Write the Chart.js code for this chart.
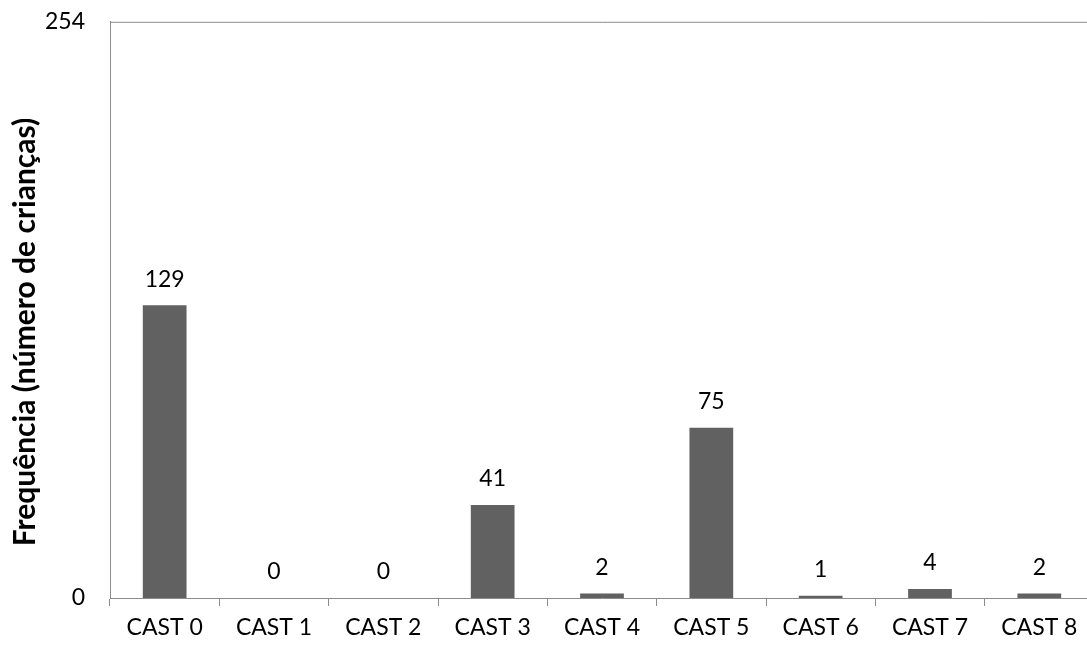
<!DOCTYPE html>
<html>
<head>
<meta charset="utf-8">
<script src="https://cdn.jsdelivr.net/npm/chart.js@4"></script>
<style>
  html, body { margin: 0; padding: 0; background: #fff; overflow: hidden; }
  #wrap { width: 1100px; height: 666px; position: relative; margin-top: -17px; }
</style>
</head>
<body>
<div id="wrap"><canvas id="chart"></canvas></div>
<script>
const categories = ["CAST 0", "CAST 1", "CAST 2", "CAST 3", "CAST 4", "CAST 5", "CAST 6", "CAST 7", "CAST 8"];
const frequencies = [129, 0, 0, 41, 2, 75, 1, 4, 2];
const yTicks = [0, 254];
const yTitle = "Frequência (número de crianças)";

const FONT = "Lato, 'Open Sans', sans-serif";

// frame around plot area, value labels over the bars and the y title
const framePlugin = {
  id: "frame",
  afterDatasetsDraw(chart) {
    const { ctx, chartArea } = chart;
    ctx.save();
    ctx.strokeStyle = "#8c8c8c";
    ctx.lineWidth = 1;
    ctx.beginPath();
    ctx.moveTo(chartArea.left + 0.5, chartArea.bottom);
    ctx.lineTo(chartArea.left + 0.5, chartArea.top + 0.5);
    ctx.lineTo(chartArea.right, chartArea.top + 0.5);
    ctx.stroke();

    const meta = chart.getDatasetMeta(0);
    ctx.fillStyle = "#000";
    ctx.font = "23px " + FONT;
    ctx.textAlign = "center";
    ctx.textBaseline = "middle";
    meta.data.forEach((bar, i) => {
      ctx.fillText(String(frequencies[i]), bar.x, bar.y - 26);
    });

    ctx.translate(25, 349);
    ctx.rotate(-Math.PI / 2);
    ctx.font = "bold 30px " + FONT;
    ctx.fillText(yTitle, 0, 0);
    ctx.restore();
  },
};

new Chart(document.getElementById("chart"), {
  type: "bar",
  data: {
    labels: categories,
    datasets: [{
      data: frequencies,
      backgroundColor: "#616161",
      barPercentage: 0.5,
      categoryPercentage: 0.8,
    }],
  },
  options: {
    responsive: true,
    maintainAspectRatio: false,
    animation: false,
    layout: { padding: { top: 0, right: 6, left: 0, bottom: 0 } },
    plugins: { legend: { display: false }, tooltip: { enabled: false } },
    scales: {
      x: {
        grid: {
          display: true,
          offset: true,
          drawOnChartArea: false,
          drawTicks: true,
          tickLength: 8,
          color: "#8c8c8c",
        },
        border: { display: true, color: "#8c8c8c" },
        ticks: { color: "#000", font: { family: FONT, size: 23, lineHeight: 1 }, padding: 10, maxRotation: 0 },
      },
      y: {
        min: 0,
        max: 254,
        afterBuildTicks(axis) {
          axis.ticks = yTicks.map((v) => ({ value: v }));
        },
        afterFit(axis) {
          axis.width = 110;
        },
        grid: { display: false, drawTicks: false },
        border: { display: true, color: "#8c8c8c" },
        ticks: { color: "#000", font: { family: FONT, size: 23 }, padding: 25 },
      },
    },
  },
  plugins: [framePlugin],
});
</script>
</body>
</html>
